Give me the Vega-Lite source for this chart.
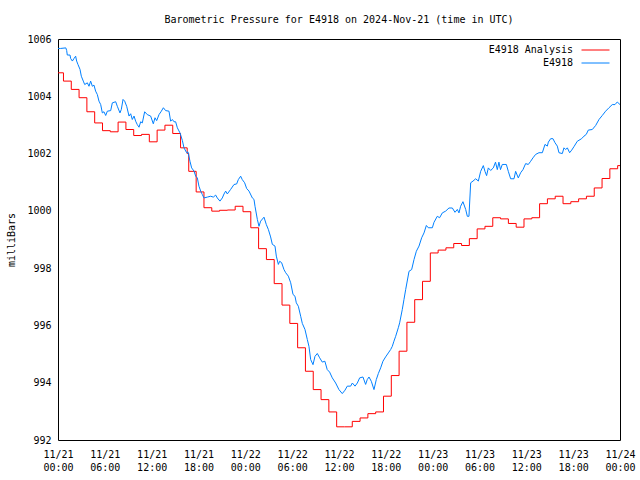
{
  "$schema": "https://vega.github.io/schema/vega-lite/v6.json",
  "width": 562,
  "height": 401,
  "autosize": {"type": "none"},
  "padding": {"left": 58, "top": 39, "right": 20, "bottom": 40},
  "background": "white",
  "title": {"text": "Barometric Pressure for E4918 on 2024-Nov-21 (time in UTC)", "font": "DejaVu Sans Mono", "fontSize": 10, "fontWeight": "normal", "color": "#000", "anchor": "middle", "frame": "group", "offset": 9},
  "datasets": {
    "analysis": [
      {"h":0,"p":1004.82},{"h":0.7,"p":1004.53},{"h":1.7,"p":1004.24},{"h":2.7,"p":1003.95},{"h":3.7,"p":1003.46},{"h":4.7,"p":1003.07},{"h":5.7,"p":1002.80},{"h":6.7,"p":1002.76},{"h":7.7,"p":1003.10},{"h":8.7,"p":1002.84},{"h":9.7,"p":1002.63},{"h":10.7,"p":1002.67},{"h":11.7,"p":1002.41},{"h":12.7,"p":1002.82},{"h":13.7,"p":1002.99},{"h":14.7,"p":1002.70},{"h":15.7,"p":1002.20},{"h":16.55,"p":1002.00},{"h":16.75,"p":1001.38},{"h":17.7,"p":1000.66},{"h":18.7,"p":1000.11},{"h":19.7,"p":999.99},{"h":20.7,"p":1000.02},{"h":21.7,"p":1000.03},{"h":22.7,"p":1000.16},{"h":23.7,"p":999.97},{"h":24.7,"p":999.41},{"h":25.7,"p":998.68},{"h":26.7,"p":998.30},{"h":27.7,"p":997.46},{"h":28.7,"p":996.71},{"h":29.7,"p":996.07},{"h":30.7,"p":995.22},{"h":31.7,"p":994.40},{"h":32.7,"p":993.76},{"h":33.7,"p":993.41},{"h":34.7,"p":992.98},{"h":35.7,"p":992.46},{"h":36.7,"p":992.46},{"h":37.7,"p":992.65},{"h":38.7,"p":992.77},{"h":39.7,"p":992.92},{"h":40.7,"p":992.98},{"h":41.7,"p":993.53},{"h":42.7,"p":994.25},{"h":43.7,"p":995.10},{"h":44.7,"p":996.11},{"h":45.7,"p":996.90},{"h":46.7,"p":997.54},{"h":47.7,"p":998.53},{"h":48.7,"p":998.63},{"h":49.7,"p":998.71},{"h":50.7,"p":998.86},{"h":51.7,"p":998.79},{"h":52.7,"p":999.03},{"h":53.7,"p":999.37},{"h":54.7,"p":999.46},{"h":55.7,"p":999.76},{"h":56.7,"p":999.72},{"h":57.7,"p":999.56},{"h":58.7,"p":999.43},{"h":59.7,"p":999.72},{"h":60.7,"p":999.76},{"h":61.7,"p":1000.25},{"h":62.7,"p":1000.42},{"h":63.7,"p":1000.51},{"h":64.7,"p":1000.25},{"h":65.7,"p":1000.32},{"h":66.7,"p":1000.42},{"h":67.7,"p":1000.51},{"h":68.7,"p":1000.80},{"h":69.7,"p":1001.13},{"h":70.7,"p":1001.47},{"h":71.7,"p":1001.58},{"h":72,"p":1001.58}
    ],
    "obs": [
      {"h":0,"p":1005.67},{"h":0.34,"p":1005.67},{"h":1.0,"p":1005.69},{"h":1.11,"p":1005.60},{"h":1.19,"p":1005.44},{"h":1.54,"p":1005.44},{"h":1.62,"p":1005.32},{"h":1.84,"p":1005.23},{"h":2.05,"p":1005.32},{"h":2.26,"p":1005.40},{"h":2.39,"p":1005.23},{"h":2.56,"p":1005.11},{"h":2.82,"p":1004.94},{"h":2.99,"p":1004.70},{"h":3.24,"p":1004.53},{"h":3.42,"p":1004.41},{"h":3.76,"p":1004.47},{"h":3.97,"p":1004.35},{"h":4.18,"p":1004.53},{"h":4.4,"p":1004.35},{"h":4.61,"p":1004.39},{"h":4.82,"p":1004.18},{"h":5.04,"p":1004.06},{"h":5.25,"p":1003.83},{"h":5.47,"p":1003.71},{"h":5.68,"p":1003.42},{"h":5.89,"p":1003.46},{"h":6.11,"p":1003.33},{"h":6.32,"p":1003.48},{"h":6.75,"p":1003.50},{"h":6.96,"p":1003.77},{"h":7.39,"p":1003.81},{"h":7.6,"p":1003.65},{"h":7.94,"p":1003.42},{"h":8.11,"p":1003.54},{"h":8.33,"p":1003.89},{"h":8.54,"p":1003.83},{"h":8.8,"p":1003.65},{"h":9.1,"p":1003.31},{"h":9.31,"p":1003.39},{"h":9.52,"p":1003.19},{"h":9.74,"p":1003.31},{"h":9.95,"p":1003.13},{"h":10.16,"p":1003.01},{"h":10.38,"p":1002.92},{"h":10.59,"p":1003.11},{"h":10.8,"p":1003.07},{"h":11.1,"p":1003.46},{"h":11.44,"p":1003.36},{"h":11.87,"p":1003.31},{"h":12.21,"p":1003.04},{"h":12.43,"p":1003.25},{"h":12.64,"p":1003.15},{"h":12.94,"p":1003.36},{"h":13.24,"p":1003.48},{"h":13.5,"p":1003.60},{"h":13.79,"p":1003.50},{"h":14.22,"p":1003.48},{"h":14.43,"p":1003.13},{"h":14.65,"p":1003.19},{"h":14.86,"p":1003.11},{"h":15.07,"p":1003.11},{"h":15.29,"p":1002.90},{"h":15.63,"p":1002.72},{"h":15.93,"p":1002.46},{"h":16.14,"p":1002.20},{"h":16.48,"p":1002.03},{"h":16.65,"p":1002.06},{"h":16.91,"p":1001.73},{"h":17.12,"p":1001.50},{"h":17.42,"p":1001.39},{"h":17.64,"p":1001.21},{"h":17.85,"p":1001.15},{"h":18.06,"p":1000.86},{"h":18.28,"p":1000.69},{"h":18.49,"p":1000.57},{"h":18.7,"p":1000.45},{"h":19.13,"p":1000.48},{"h":19.56,"p":1000.51},{"h":19.9,"p":1000.48},{"h":20.2,"p":1000.55},{"h":20.41,"p":1000.45},{"h":20.75,"p":1000.34},{"h":21.05,"p":1000.45},{"h":21.27,"p":1000.59},{"h":21.48,"p":1000.69},{"h":21.69,"p":1000.59},{"h":22.12,"p":1000.75},{"h":22.55,"p":1000.92},{"h":22.89,"p":1000.94},{"h":23.1,"p":1001.09},{"h":23.4,"p":1001.21},{"h":23.61,"p":1001.09},{"h":23.91,"p":1000.98},{"h":24.17,"p":1000.78},{"h":24.47,"p":1000.69},{"h":24.9,"p":1000.45},{"h":25.11,"p":1000.40},{"h":25.24,"p":1000.16},{"h":25.54,"p":999.70},{"h":25.75,"p":999.46},{"h":25.96,"p":999.64},{"h":26.39,"p":999.78},{"h":26.69,"p":999.52},{"h":26.95,"p":999.35},{"h":27.24,"p":999.09},{"h":27.46,"p":998.83},{"h":27.8,"p":998.77},{"h":27.97,"p":998.42},{"h":28.23,"p":998.13},{"h":28.4,"p":998.24},{"h":28.65,"p":998.19},{"h":28.95,"p":997.95},{"h":29.17,"p":997.84},{"h":29.51,"p":997.72},{"h":29.81,"p":997.49},{"h":30.11,"p":997.08},{"h":30.36,"p":997.02},{"h":30.53,"p":996.79},{"h":30.79,"p":996.67},{"h":31.09,"p":996.32},{"h":31.3,"p":996.07},{"h":31.64,"p":995.86},{"h":31.94,"p":995.51},{"h":32.15,"p":995.27},{"h":32.37,"p":994.81},{"h":32.67,"p":994.63},{"h":32.92,"p":994.92},{"h":33.22,"p":995.02},{"h":33.52,"p":994.87},{"h":33.86,"p":994.72},{"h":34.19,"p":994.75},{"h":34.49,"p":994.46},{"h":34.8,"p":994.37},{"h":35.14,"p":994.17},{"h":35.57,"p":993.99},{"h":35.99,"p":993.76},{"h":36.42,"p":993.62},{"h":36.77,"p":993.74},{"h":37.06,"p":993.88},{"h":37.49,"p":993.88},{"h":37.71,"p":993.99},{"h":38.05,"p":993.88},{"h":38.35,"p":993.99},{"h":38.65,"p":994.17},{"h":39.07,"p":994.20},{"h":39.41,"p":993.94},{"h":39.62,"p":994.11},{"h":39.84,"p":994.20},{"h":40.14,"p":994.05},{"h":40.48,"p":993.76},{"h":40.78,"p":994.11},{"h":41.04,"p":994.32},{"h":41.34,"p":994.52},{"h":41.63,"p":994.75},{"h":41.97,"p":994.90},{"h":42.32,"p":995.04},{"h":42.62,"p":995.16},{"h":42.83,"p":995.27},{"h":43.04,"p":995.45},{"h":43.26,"p":995.62},{"h":43.6,"p":995.92},{"h":43.77,"p":996.09},{"h":44.11,"p":996.56},{"h":44.32,"p":996.90},{"h":44.54,"p":997.25},{"h":44.97,"p":997.89},{"h":45.31,"p":997.95},{"h":45.61,"p":998.30},{"h":45.91,"p":998.59},{"h":46.25,"p":998.77},{"h":46.59,"p":999.06},{"h":46.89,"p":999.23},{"h":47.19,"p":999.49},{"h":47.44,"p":999.41},{"h":47.96,"p":999.41},{"h":48.17,"p":999.60},{"h":48.59,"p":999.81},{"h":48.89,"p":999.76},{"h":49.24,"p":999.93},{"h":49.66,"p":999.99},{"h":50.09,"p":1000.10},{"h":50.52,"p":1000.10},{"h":50.86,"p":999.95},{"h":51.16,"p":1000.05},{"h":51.37,"p":999.93},{"h":51.58,"p":1000.16},{"h":51.88,"p":1000.32},{"h":52.23,"p":1000.05},{"h":52.44,"p":999.81},{"h":52.65,"p":999.81},{"h":52.87,"p":1000.98},{"h":53.17,"p":1001.04},{"h":53.51,"p":1001.12},{"h":53.85,"p":1001.04},{"h":54.15,"p":1001.38},{"h":54.49,"p":1001.58},{"h":54.7,"p":1001.38},{"h":54.91,"p":1001.23},{"h":55.13,"p":1001.50},{"h":55.43,"p":1001.41},{"h":55.77,"p":1001.50},{"h":56.05,"p":1001.70},{"h":56.28,"p":1001.44},{"h":56.49,"p":1001.70},{"h":56.69,"p":1001.44},{"h":56.92,"p":1001.62},{"h":57.26,"p":1001.62},{"h":57.44,"p":1001.62},{"h":57.69,"p":1001.38},{"h":57.99,"p":1001.12},{"h":58.42,"p":1001.12},{"h":58.63,"p":1001.38},{"h":58.97,"p":1001.15},{"h":59.27,"p":1001.33},{"h":59.57,"p":1001.44},{"h":59.91,"p":1001.65},{"h":60.25,"p":1001.62},{"h":60.55,"p":1001.73},{"h":60.85,"p":1001.85},{"h":61.19,"p":1001.97},{"h":61.62,"p":1002.03},{"h":62.05,"p":1002.03},{"h":62.39,"p":1002.32},{"h":62.69,"p":1002.26},{"h":62.82,"p":1002.40},{"h":63.12,"p":1002.52},{"h":63.41,"p":1002.52},{"h":63.67,"p":1002.38},{"h":63.97,"p":1002.26},{"h":64.18,"p":1002.03},{"h":64.61,"p":1002.00},{"h":64.82,"p":1002.20},{"h":65.04,"p":1002.14},{"h":65.25,"p":1002.20},{"h":65.55,"p":1002.03},{"h":65.81,"p":1002.12},{"h":66.1,"p":1002.24},{"h":66.53,"p":1002.43},{"h":67.08,"p":1002.52},{"h":67.39,"p":1002.61},{"h":67.68,"p":1002.67},{"h":67.94,"p":1002.82},{"h":68.45,"p":1002.84},{"h":68.88,"p":1002.98},{"h":69.31,"p":1003.19},{"h":69.73,"p":1003.33},{"h":70.16,"p":1003.48},{"h":70.59,"p":1003.60},{"h":71.01,"p":1003.71},{"h":71.36,"p":1003.71},{"h":71.65,"p":1003.80},{"h":72,"p":1003.71}
    ]
  },
  "resolve": {"axis": {"x": "independent", "y": "independent"}},
  "layer": [
    {
      "data": {"name": "analysis"},
      "mark": {"type": "line", "interpolate": "step-after", "strokeWidth": 1},
      "encoding": {
        "x": {"field": "h", "type": "quantitative", "scale": {"domain": [0, 72], "nice": false, "zero": false},
          "axis": {"orient": "bottom", "title": null, "values": [0,2,4,6,8,10,12,14,16,18,20,22,24,26,28,30,32,34,36,38,40,42,44,46,48,50,52,54,56,58,60,62,64,66,68,70,72],
            "tickSize": 0, "labelPadding": 9, "labelOverlap": false, "labelFlush": false, "labelBound": false, "labelLineHeight": 13,
            "labelExpr": "datum.value % 6 === 0 ? ['11/' + (21 + floor(datum.value / 24)), (datum.value % 24 < 10 ? '0' : '') + (datum.value % 24) + ':00'] : ''",
            "encode": {"ticks": {"update": {"y2": {"signal": "datum.value % 6 === 0 ? -4 : -2"}}}}}},
        "y": {"field": "p", "type": "quantitative", "scale": {"domain": [992, 1006], "nice": false, "zero": false},
          "axis": {"orient": "left", "title": "milliBars", "titlePadding": 10, "values": [992,994,996,998,1000,1002,1004,1006], "format": "d",
            "tickSize": 0, "labelPadding": 7, "labelOverlap": false,
            "encode": {"ticks": {"update": {"x2": {"value": 4}}}}}},
        "color": {"datum": "E4918 Analysis", "type": "nominal",
          "scale": {"domain": ["E4918 Analysis", "E4918"], "range": ["#ff0000", "#0080ff"]},
          "legend": {"title": null, "orient": "none", "legendX": 523, "legendY": 3.5, "symbolType": "M-2,0H2", "symbolSize": 196, "symbolStrokeWidth": 1, "symbolOffset": 7,
            "labelAlign": "right", "labelOffset": -30, "labelFont": "DejaVu Sans Mono", "labelFontSize": 10, "labelColor": "#000",
            "rowPadding": 0, "padding": 0, "labelLimit": 300,
            "encode": {"symbols": {"update": {"stroke": {"scale": "color", "field": "value"}, "strokeWidth": {"value": 1}, "opacity": {"value": 1}}}}}}
      }
    },
    {
      "data": {"name": "obs"},
      "mark": {"type": "line", "interpolate": "linear", "strokeWidth": 1},
      "encoding": {
        "x": {"field": "h", "type": "quantitative",
          "axis": {"orient": "top", "title": null, "labels": false, "values": [0,2,4,6,8,10,12,14,16,18,20,22,24,26,28,30,32,34,36,38,40,42,44,46,48,50,52,54,56,58,60,62,64,66,68,70,72],
            "tickSize": 0,
            "encode": {"ticks": {"update": {"y2": {"signal": "datum.value % 6 === 0 ? 4 : 2"}}}}}},
        "y": {"field": "p", "type": "quantitative",
          "axis": {"orient": "right", "title": null, "labels": false, "values": [992,994,996,998,1000,1002,1004,1006], "tickSize": 0,
            "encode": {"ticks": {"update": {"x2": {"value": -4}}}}}},
        "color": {"datum": "E4918", "type": "nominal"}
      }
    }
  ],
  "config": {
    "view": {"stroke": null},
    "font": "DejaVu Sans Mono",
    "axis": {"grid": false, "labelFont": "DejaVu Sans Mono", "labelFontSize": 10, "labelColor": "#000", "titleFont": "DejaVu Sans Mono", "titleFontSize": 10, "titleFontWeight": "normal", "titleColor": "#000", "domainColor": "#000", "domainWidth": 1, "tickColor": "#000", "tickWidth": 1}
  }
}
